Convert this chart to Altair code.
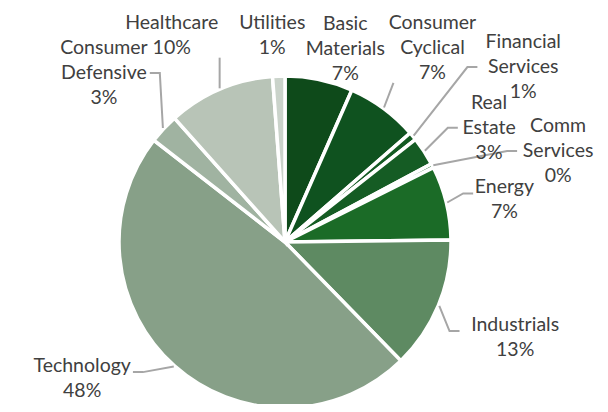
import math
import altair as alt
import pandas as pd

# ---------------- data ----------------
sectors = ["Basic Materials", "Consumer Cyclical", "Financial Services", "Real Estate",
           "Comm Services", "Energy", "Industrials", "Technology",
           "Consumer Defensive", "Healthcare", "Utilities"]
name_lines = [["Basic", "Materials"], ["Consumer", "Cyclical"], ["Financial", "Services"],
              ["Real", "Estate"], ["Comm", "Services"], ["Energy"], ["Industrials"],
              ["Technology"], ["Consumer", "Defensive"], ["Healthcare"], ["Utilities"]]
weights = [6.6, 7.0, 0.8, 2.8, 0.4, 7.2, 12.9, 47.8, 2.9, 10.4, 1.2]
colors = ["#0e4a1a", "#0f521f", "#135a22", "#155c24", "#176426", "#1b6b27",
          "#5e8a62", "#87a088", "#a0b3a1", "#b8c4b7", "#cad3ca"]

# ---------------- layout settings ----------------
W, H = 592, 396
CX, CY, R = 277, 234, 166
FONT, FS, LH = "Lato", 19.5, 25
CHAR = 0.5 * FS
GAP = 24

n = len(weights)
tot = sum(weights)
pct = [round(v / tot * 100) for v in weights]
texts = [nl + [f"{p}%"] for nl, p in zip(name_lines, pct)]
mids = []
cum = 0.0
for v in weights:
    mids.append((cum + v / 2) / tot * 2 * math.pi)
    cum += v

lws = [[len(s) * CHAR for s in t] for t in texts]
ws = [max(l) for l in lws]
hs = [len(t) * LH for t in texts]
ang = list(mids)
rad = [R + GAP] * n


def center(i):
    s, c = math.sin(ang[i]), math.cos(ang[i])
    sup = abs(s) * ws[i] / 2 + abs(c) * hs[i] / 2
    d = rad[i] + sup
    return CX + d * s, CY - d * c


def bbox(i):
    x, y = center(i)
    return x - ws[i] / 2, y - hs[i] / 2, x + ws[i] / 2, y + hs[i] / 2


def line_boxes(i):
    x, y = center(i)
    top = y - hs[i] / 2
    return [(x - w / 2, top + k * LH + 3, x + w / 2, top + (k + 1) * LH - 3)
            for k, w in enumerate(lws[i])]


def overlap(i, j, pad=4):
    for a in line_boxes(i):
        for b in line_boxes(j):
            if a[0] < b[2] + pad and b[0] < a[2] + pad and a[1] < b[3] + pad and b[1] < a[3] + pad:
                return True
    return False


def v_out(i):
    x0, y0, x1, y1 = bbox(i)
    return y0 < 2 or y1 > H


def h_out(i):
    x0, y0, x1, y1 = bbox(i)
    return x0 < 0 or x1 > W - 2


def from_top(a):
    a = a % (2 * math.pi)
    return min(a, 2 * math.pi - a)


def fit(i):
    for _ in range(300):
        if not (v_out(i) or h_out(i)):
            return
        s = math.sin(ang[i])
        if v_out(i):
            if abs(s) < 0.35 and rad[i] > R - 16:
                rad[i] -= 1
            else:
                tgt = math.pi / 2 if s >= 0 else 3 * math.pi / 2
                ang[i] += 0.01 if ang[i] < tgt else -0.01
        else:
            if rad[i] > R + 2:
                rad[i] -= 1
            else:
                break


for i in range(n):
    fit(i)

for _ in range(800):
    hit = False
    for i in range(n):
        for j in range(i + 1, n):
            if overlap(i, j):
                hit = True
                k = i if weights[i] < weights[j] else j
                rad[k] += 2
                if v_out(k) or h_out(k):
                    rad[k] -= 2
                d = (ang[j] - ang[i] + math.pi) % (2 * math.pi) - math.pi
                sgn = 1 if d >= 0 else -1
                # the label lower on the pie gives way more than the upper one
                if from_top(ang[i]) > from_top(ang[j]):
                    si, sj = 0.008, 0.002
                else:
                    si, sj = 0.002, 0.008
                ang[i] -= sgn * si
                ang[j] += sgn * sj
    for i in range(n):
        fit(i)
    if not hit:
        break

lab_rows, lead_rows = [], []
for i in range(n):
    x, y = center(i)
    x0, y0, x1, y1 = bbox(i)
    # Vega draws the first line at y and the following ones below it
    lab_rows.append({"sector": sectors[i], "lx": x, "ly": y0 + LH / 2,
                     "label": "\n".join(texts[i])})
    sx = CX + (R + 1) * math.sin(mids[i])
    sy = CY - (R + 1) * math.cos(mids[i])
    nx, ny = min(max(sx, x0), x1), min(max(sy, y0), y1)
    if math.hypot(nx - sx, ny - sy) < 16:
        continue
    ey = y0 + (hs[i] / 2 if len(texts[i]) == 3 else LH * 0.75)
    if x >= sx:
        ex, elx = x0 - 2, x0 - 12
        ok = elx > sx + 2
    else:
        ex, elx = x1 + 2, x1 + 12
        ok = elx < sx - 2
    if ok:
        pts = [(sx, sy), (elx, ey), (ex, ey)]
    else:
        pts = [(sx, sy), (nx, ny + (3 if ny > sy else -3))]
    for k, (px, py) in enumerate(pts):
        lead_rows.append({"sector": sectors[i], "pt": k, "x": px, "y": py})

df = pd.DataFrame({"sector": sectors, "weight": weights, "idx": list(range(n))})
lab = pd.DataFrame(lab_rows)
lead = pd.DataFrame(lead_rows)

pie = alt.Chart(df).mark_arc(outerRadius=R, stroke="white", strokeWidth=3.5).encode(
    theta=alt.Theta("weight:Q", stack=True),
    order=alt.Order("idx:Q"),
    color=alt.Color("sector:N", scale=alt.Scale(domain=sectors, range=colors), legend=None),
    x=alt.value(CX),
    y=alt.value(CY),
)

leaders = alt.Chart(lead).mark_line(color="#a6a6a6", strokeWidth=2).encode(
    x=alt.X("x:Q", scale=None, axis=None),
    y=alt.Y("y:Q", scale=None, axis=None),
    detail="sector:N",
    order="pt:Q",
)

labels = alt.Chart(lab).mark_text(
    font=FONT, fontSize=FS, color="#404040", lineBreak="\n", lineHeight=LH,
    align="center", baseline="middle"
).encode(
    x=alt.X("lx:Q", scale=None, axis=None),
    y=alt.Y("ly:Q", scale=None, axis=None),
    text="label:N",
)

chart = alt.layer(pie, leaders, labels).properties(
    width=W, height=H, padding=0, autosize="none"
).configure_view(stroke=None)

chart.save("out.html", embed_options={"renderer": "svg", "actions": False})
